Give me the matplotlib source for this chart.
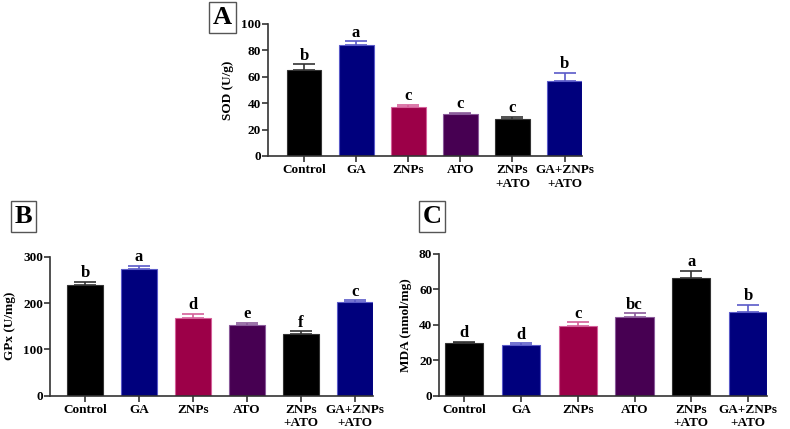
import matplotlib
matplotlib.use('Agg')
import matplotlib.pyplot as plt
import numpy as np

groups = ['Control', 'GA', 'ZNPs', 'ATO', 'ZNPs\n+ATO', 'GA+ZNPs\n+ATO']

sod_mean = [65.5, 84.2, 37.3, 31.6, 28.0, 56.8]
sod_err = [4.0, 2.6, 1.7, 1.3, 1.7, 6.0]
sod_letters = ['b', 'a', 'c', 'c', 'c', 'b']

gpx_mean = [240, 274, 168, 152, 134, 203]
gpx_err = [5, 6, 9, 5, 5, 3]
gpx_letters = ['b', 'a', 'd', 'e', 'f', 'c']

mda_mean = [29.6, 28.7, 39.4, 44.3, 66.4, 47.5]
mda_err = [0.9, 0.8, 2.0, 2.2, 4.2, 3.9]
mda_letters = ['d', 'd', 'c', 'bc', 'a', 'b']

fill = ['#000000', '#00007d', '#9c0048', '#470052', '#000000', '#00007d']
edge = ['#333333', '#5a5ac8', '#d4609a', '#8a5a9a', '#333333', '#5a5ac8']

serif = 'Liberation Serif'
plt.rcParams['font.family'] = serif
plt.rcParams['font.weight'] = 'bold'

fig = plt.figure(figsize=(7.9, 4.29), dpi=100)

W = 0.67


def panel(rect, xl, means, errs, letters, ymax, ystep, ylabel, letter_gap):
    ax = fig.add_axes(rect)
    x = np.arange(len(groups))
    ax.bar(x, means, width=W, color=fill, edgecolor=edge, linewidth=0.8, zorder=2)
    for i in range(len(x)):
        ax.errorbar(x[i], means[i], yerr=[[0], [errs[i]]], fmt='none',
                    ecolor=edge[i], elinewidth=1.2, capsize=8, capthick=1.2, zorder=1)
        ax.text(x[i], means[i] + errs[i] + letter_gap, letters[i], ha='center', va='bottom',
                fontsize=12, fontweight='bold', family=serif)
    ax.set_xlim(xl, len(groups) - 1 + W / 2)
    ax.set_ylim(0, ymax)
    ax.set_yticks(np.arange(0, ymax + 1, ystep))
    ax.set_xticks(x)
    ax.set_xticklabels(groups, fontsize=9.5, fontweight='bold', linespacing=1.15)
    for lab in ax.get_yticklabels():
        lab.set_fontsize(9.5)
        lab.set_fontweight('bold')
    ax.set_ylabel(ylabel, fontsize=9.5, fontweight='bold', labelpad=5)
    ax.spines['top'].set_visible(False)
    ax.spines['right'].set_visible(False)
    ax.spines['left'].set_linewidth(1.2)
    ax.spines['bottom'].set_linewidth(1.2)
    ax.spines['left'].set_color('#333333')
    ax.spines['bottom'].set_color('#333333')
    ax.tick_params(axis='y', length=4, width=1.2, pad=1, color='#333333')
    ax.tick_params(axis='x', length=4, width=1.2, pad=2, color='#333333')
    ax.patch.set_alpha(0)
    return ax


panel([268 / 790, 1 - 156 / 429, 314 / 790, 132 / 429], -0.69,
      sod_mean, sod_err, sod_letters, 100, 20, 'SOD (U/g)', 0.5)
panel([50 / 790, 1 - 395.7 / 429, 323 / 790, 139 / 429], -0.65,
      gpx_mean, gpx_err, gpx_letters, 300, 100, 'GPx (U/mg)', 1.5)
panel([439.3 / 790, 1 - 395.7 / 429, 327.7 / 790, 141.7 / 429], -0.44,
      mda_mean, mda_err, mda_letters, 80, 20, 'MDA (nmol/mg)', 0.4)

# panel letters in boxes
for lbl, cx, cy in [('A', 222.5, 17.5), ('B', 23.5, 216.5), ('C', 432, 216.5)]:
    fig.text(cx / 790, 1 - cy / 429, lbl, ha='center', va='center', fontsize=19,
             fontweight='bold', family=serif,
             bbox=dict(boxstyle='square,pad=0.15', facecolor='white', edgecolor='#555555', linewidth=1))

fig.savefig('out.png', dpi=100)
